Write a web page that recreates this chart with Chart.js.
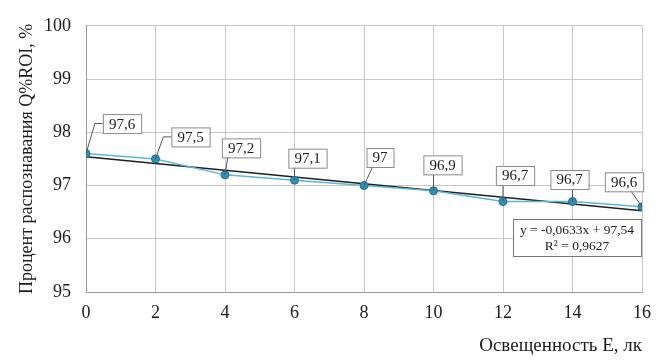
<!DOCTYPE html>
<html>
<head>
<meta charset="utf-8">
<script src="https://cdn.jsdelivr.net/npm/chart.js@4/dist/chart.umd.min.js"></script>
<style>
  html, body { margin: 0; padding: 0; background: #ffffff; }
  #wrap { width: 661px; height: 361px; }
</style>
</head>
<body>
<div id="wrap"><canvas id="c" width="661" height="361"></canvas></div>
<script>
// Illuminance (lx) and recognition rate (%)
const illuminance = [0, 2, 4, 6, 8, 10, 12, 14, 16];
const recognition = [97.6, 97.5, 97.2, 97.1, 97.0, 96.9, 96.7, 96.7, 96.6];
const valueLabels = ['97,6', '97,5', '97,2', '97,1', '97', '96,9', '96,7', '96,7', '96,6'];
// Linear trend y = slope*x + intercept
const trendSlope = -0.0633;
const trendIntercept = 97.54;
const trendText = ['y = -0,0633x + 97,54', 'R² = 0,9627'];
const xTicks = [0, 2, 4, 6, 8, 10, 12, 14, 16];
const yTicks = [95, 96, 97, 98, 99, 100];

// Label box offsets from each point (px)
const labelOffsets = [[36,-30],[35,-22],[16,-27],[13,-22],[16,-28],[9,-26],[12,-26],[-3,-22],[-18,-25]];

const serif = '"Liberation Serif", "DejaVu Serif", serif';
const ink = '#1c1c1c';

const labelPlugin = {
  id: 'valueBoxes',
  afterDatasetsDraw(chart) {
    const ctx = chart.ctx;
    const xs = chart.scales.x, ys = chart.scales.y;
    ctx.save();
    ctx.font = '15px ' + serif;
    ctx.textAlign = 'center';
    ctx.textBaseline = 'middle';
    illuminance.forEach((xv, i) => {
      const px = xs.getPixelForValue(xv);
      const py = ys.getPixelForValue(recognition[i]);
      const cx = px + labelOffsets[i][0];
      const cy = py + labelOffsets[i][1];
      const w = ctx.measureText(valueLabels[i]).width + 12;
      const h = 19;
      const l = cx - w / 2, t = cy - h / 2;
      ctx.strokeStyle = '#555';
      ctx.lineWidth = 1;
      ctx.beginPath();
      ctx.moveTo(px, py);
      if (px < l - 6) {
        // bent leader into the left side of the box
        ctx.lineTo(l - 8, cy);
        ctx.lineTo(l, cy);
      } else {
        const ax = Math.min(Math.max(px, l + 6), l + w - 12);
        ctx.lineTo(ax, t + h);
      }
      ctx.stroke();
      ctx.fillStyle = '#ffffff';
      ctx.fillRect(l, t, w, h);
      ctx.strokeStyle = '#8a8a8a';
      ctx.strokeRect(l + 0.5, t + 0.5, w, h);
      ctx.fillStyle = ink;
      ctx.fillText(valueLabels[i], cx, cy + 1);
    });
    // Trend equation box
    ctx.font = '13.5px ' + serif;
    const bw = 128, bh = 37;
    const bl = 513, bt = 219;
    ctx.fillStyle = '#ffffff';
    ctx.fillRect(bl, bt, bw, bh);
    ctx.strokeStyle = '#777';
    ctx.strokeRect(bl + 0.5, bt + 0.5, bw, bh);
    ctx.fillStyle = ink;
    ctx.fillText(trendText[0], bl + bw / 2, bt + 11);
    ctx.fillText(trendText[1], bl + bw / 2, bt + 27);
    ctx.restore();
  }
};

new Chart(document.getElementById('c'), {
  type: 'scatter',
  data: {
    datasets: [
      {
        label: 'Q%ROI',
        data: illuminance.map((x, i) => ({ x: x, y: recognition[i] })),
        showLine: true,
        borderColor: '#5ab6de',
        borderWidth: 1.5,
        backgroundColor: '#2f8fb6',
        pointBorderColor: '#1f6f92',
        pointBorderWidth: 1,
        pointRadius: 4,
        order: 1
      },
      {
        label: 'trend',
        data: [xTicks[0], xTicks[xTicks.length - 1]].map(x => ({ x: x, y: trendSlope * x + trendIntercept })),
        showLine: true,
        borderColor: '#1e1e1e',
        borderWidth: 1.6,
        pointRadius: 0,
        order: 2
      }
    ]
  },
  options: {
    responsive: false,
    animation: false,
    layout: { padding: { top: 17, right: 12, left: 12, bottom: 0 } },
    plugins: { legend: { display: false }, tooltip: { enabled: false } },
    scales: {
      x: {
        type: 'linear', min: 0, max: 16,
        afterBuildTicks(scale) { scale.ticks = xTicks.map(v => ({ value: v })); },
        afterFit(scale) { scale.height = 69; },
        grid: { color: '#ccc5c2', lineWidth: 1, drawTicks: false },
        border: { color: '#9c9694' },
        ticks: { padding: 10, color: ink, font: { family: serif, size: 18 } },
        title: {
          display: true, text: 'Освещенность E, лк', align: 'end',
          color: ink, font: { family: serif, size: 19 }, padding: { top: 16 }
        }
      },
      y: {
        type: 'linear', min: 95, max: 100,
        afterBuildTicks(scale) { scale.ticks = yTicks.map(v => ({ value: v })); },
        afterFit(scale) { scale.width = 74; },
        grid: { color: '#ccc5c2', lineWidth: 1, drawTicks: false },
        border: { color: '#9c9694' },
        ticks: { padding: 15, color: ink, font: { family: serif, size: 18 } },
        title: {
          display: true, text: 'Процент распознавания Q%ROI, %',
          color: ink, font: { family: serif, size: 18 }, padding: { bottom: 2 }
        }
      }
    }
  },
  plugins: [labelPlugin]
});
</script>
</body>
</html>
